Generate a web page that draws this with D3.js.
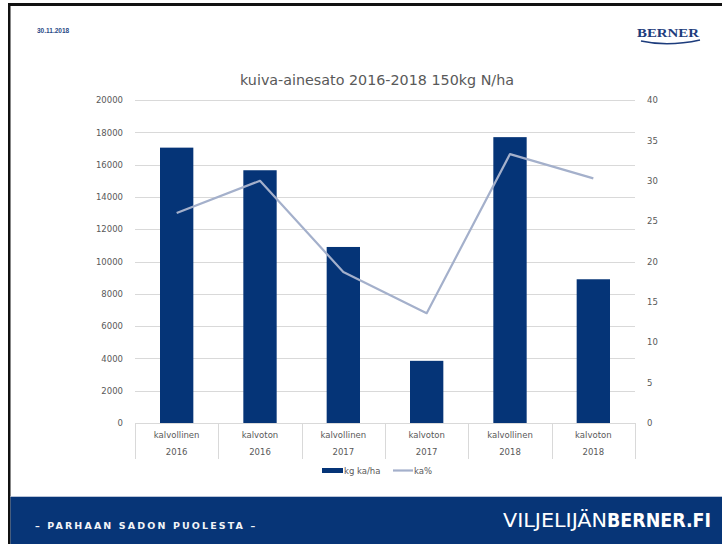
<!DOCTYPE html>
<html>
<head>
<meta charset="utf-8">
<script src="https://cdn.jsdelivr.net/npm/d3@7"></script>
<style>
  body { margin: 0; background: #fff; }
  svg { display: block; }
</style>
</head>
<body>
<div id="chart"></div>
<script>
// data
var types = ["kalvollinen", "kalvoton", "kalvollinen", "kalvoton", "kalvollinen", "kalvoton"];
var years = ["2016", "2016", "2017", "2017", "2018", "2018"];
var yieldKg = [17050, 15650, 10900, 3850, 17700, 8900];   // kg ka/ha
var dmPct = [26, 30, 18.7, 13.6, 33.3, 30.3];              // ka%
var leftTicks = [0, 2000, 4000, 6000, 8000, 10000, 12000, 14000, 16000, 18000, 20000];
var rightTicks = [0, 5, 10, 15, 20, 25, 30, 35, 40];

var W = 722, H = 544;
var navy = "#053477";
var lineCol = "#a4b0cb";
var gridCol = "#d9d9d9";
var txtCol = "#595959";
var font = "'DejaVu Sans', Verdana, sans-serif";

var svg = d3.select("#chart").append("svg")
    .attr("width", W)
    .attr("height", H);

// slide frame
svg.append("rect").attr("x", 8).attr("y", 3).attr("width", W - 8).attr("height", 3).attr("fill", "#111");
svg.append("rect").attr("x", 8).attr("y", 3).attr("width", 2.5).attr("height", H - 3).attr("fill", "#111");

// header
svg.append("text")
    .attr("x", 37).attr("y", 33)
    .attr("font-family", "'Liberation Sans', Arial, sans-serif")
    .attr("font-weight", "bold")
    .attr("font-size", 6.5)
    .attr("fill", "#2b4a86")
    .text("30.11.2018");

svg.append("text")
    .attr("x", 668).attr("y", 37)
    .attr("text-anchor", "middle")
    .attr("font-family", "'Liberation Serif', 'Times New Roman', serif")
    .attr("font-weight", "bold")
    .attr("font-size", 13)
    .attr("textLength", 62)
    .attr("lengthAdjust", "spacingAndGlyphs")
    .attr("fill", "#1d3c7c")
    .text("BERNER");
svg.append("path")
    .attr("d", "M641,41 Q668,47 700,40")
    .attr("fill", "none")
    .attr("stroke", "#1d3c7c")
    .attr("stroke-width", 1.4);

// chart
var x0 = 135, x1 = 635, yTop = 100, yBot = 423;

var x = d3.scaleBand()
    .domain(d3.range(types.length))
    .range([x0, x1])
    .paddingInner(0.6)
    .paddingOuter(0.3);

var xCat = d3.scaleBand()
    .domain(d3.range(types.length))
    .range([x0, x1]);

var yL = d3.scaleLinear().domain([0, 20000]).range([yBot, yTop]);
var yR = d3.scaleLinear().domain([0, 40]).range([yBot, yTop]);

svg.append("text")
    .attr("x", 377).attr("y", 85)
    .attr("text-anchor", "middle")
    .attr("font-family", font)
    .attr("font-size", 14.3)
    .attr("fill", txtCol)
    .text("kuiva-ainesato 2016-2018 150kg N/ha");

// gridlines
svg.append("g").selectAll("line.grid")
    .data(leftTicks)
    .enter()
    .append("line")
    .attr("class", "grid")
    .attr("x1", x0).attr("x2", x1)
    .attr("y1", function (d) { return Math.round(yL(d)) + 0.5; })
    .attr("y2", function (d) { return Math.round(yL(d)) + 0.5; })
    .attr("stroke", gridCol)
    .attr("stroke-width", 1);

// left axis
var leftAxis = svg.append("g")
    .attr("transform", "translate(" + (x0 - 9) + ",0)")
    .call(d3.axisLeft(yL).tickValues(leftTicks).tickSize(0).tickFormat(d3.format("d")));
leftAxis.select(".domain").remove();
leftAxis.selectAll("text")
    .attr("font-family", font).attr("font-size", 8.5).attr("fill", txtCol);

// right axis
var rightAxis = svg.append("g")
    .attr("transform", "translate(" + (x1 + 9) + ",0)")
    .call(d3.axisRight(yR).tickValues(rightTicks).tickSize(0));
rightAxis.select(".domain").remove();
rightAxis.selectAll("text")
    .attr("font-family", font).attr("font-size", 8.5).attr("fill", txtCol);

// category dividers
svg.append("g").selectAll("line.div")
    .data(d3.range(types.length + 1))
    .enter()
    .append("line")
    .attr("class", "div")
    .attr("x1", function (d) { return Math.round(x0 + d * xCat.bandwidth()) + 0.5; })
    .attr("x2", function (d) { return Math.round(x0 + d * xCat.bandwidth()) + 0.5; })
    .attr("y1", yBot).attr("y2", 459)
    .attr("stroke", gridCol);

// bars
svg.append("g").selectAll("rect.bar")
    .data(yieldKg)
    .enter()
    .append("rect")
    .attr("class", "bar")
    .attr("x", function (d, i) { return x(i); })
    .attr("width", x.bandwidth())
    .attr("y", function (d) { return yL(d); })
    .attr("height", function (d) { return yBot - yL(d); })
    .attr("fill", navy);

// line
var line = d3.line()
    .x(function (d, i) { return xCat(i) + xCat.bandwidth() / 2; })
    .y(function (d) { return yR(d); });

svg.append("path")
    .datum(dmPct)
    .attr("d", line)
    .attr("fill", "none")
    .attr("stroke", lineCol)
    .attr("stroke-width", 2.2)
    .attr("stroke-linejoin", "round");

// category labels
svg.append("g").selectAll("text.type")
    .data(types)
    .enter()
    .append("text")
    .attr("class", "type")
    .attr("x", function (d, i) { return xCat(i) + xCat.bandwidth() / 2; })
    .attr("y", 438)
    .attr("text-anchor", "middle")
    .attr("font-family", font).attr("font-size", 8.5).attr("fill", txtCol)
    .text(function (d) { return d; });

svg.append("g").selectAll("text.year")
    .data(years)
    .enter()
    .append("text")
    .attr("class", "year")
    .attr("x", function (d, i) { return xCat(i) + xCat.bandwidth() / 2; })
    .attr("y", 455)
    .attr("text-anchor", "middle")
    .attr("font-family", font).attr("font-size", 8.5).attr("fill", txtCol)
    .text(function (d) { return d; });

// legend
var lg = svg.append("g").attr("transform", "translate(322,471)");
lg.append("rect").attr("x", 0).attr("y", -3).attr("width", 21).attr("height", 5).attr("fill", navy);
lg.append("text").attr("x", 22).attr("y", 3)
    .attr("font-family", font).attr("font-size", 8.5).attr("fill", txtCol)
    .text("kg ka/ha");
lg.append("line").attr("x1", 71).attr("x2", 91).attr("y1", -0.5).attr("y2", -0.5)
    .attr("stroke", lineCol).attr("stroke-width", 2.2);
lg.append("text").attr("x", 92).attr("y", 3)
    .attr("font-family", font).attr("font-size", 8.5).attr("fill", txtCol)
    .text("ka%");

// footer band
svg.append("rect").attr("x", 10.5).attr("y", 496).attr("width", W - 10.5).attr("height", 1).attr("fill", "#b9c4d8");
svg.append("rect").attr("x", 10.5).attr("y", 497).attr("width", W - 10.5).attr("height", H - 497).attr("fill", "#073577");

svg.append("text")
    .attr("x", 35).attr("y", 528.5)
    .attr("font-family", "'DejaVu Sans', sans-serif")
    .attr("font-weight", "bold")
    .attr("font-size", 9.5)
    .attr("letter-spacing", 2.8)
    .attr("textLength", 223)
    .attr("fill", "#f2f4f8")
    .text("– PARHAAN SADON PUOLESTA –");

var ft = svg.append("text")
    .attr("x", 503).attr("y", 527)
    .attr("font-family", "'DejaVu Sans Condensed', 'Liberation Sans Narrow', sans-serif")
    .attr("font-size", 20)
    .attr("fill", "#fff");
ft.append("tspan").attr("font-weight", 200).attr("textLength", 104).attr("lengthAdjust", "spacingAndGlyphs").text("VILJELIJÄN");
ft.append("tspan").attr("font-weight", "bold").attr("textLength", 104).attr("lengthAdjust", "spacingAndGlyphs").text("BERNER.FI");
</script>
</body>
</html>
